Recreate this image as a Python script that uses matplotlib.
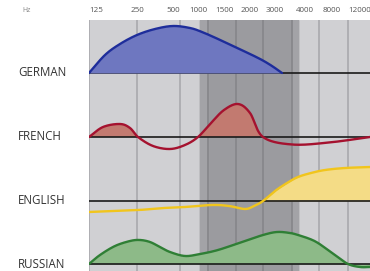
import matplotlib
matplotlib.use("Agg")
import matplotlib.pyplot as plt
import numpy as np

plt.rcParams['font.family'] = ['Open Sans', 'DejaVu Sans']

# ---------------- data ----------------
freq_labels = ["125", "250", "500", "1000", "1500", "2000", "3000", "4000", "8000", "12000"]
languages = ["GERMAN", "FRENCH", "ENGLISH", "RUSSIAN"]

# position along frequency axis (axis units) and amplitude above each baseline
german_x = [0, 16, 31, 48, 66, 84, 101, 113, 129, 146, 161, 173, 183, 193]
german_y = [0, 18, 29, 38, 44, 47, 45, 41, 34, 26, 19, 13, 7, 0]

french_x = [0, 14, 31, 41, 49, 64, 81, 96, 109, 122, 135, 149, 161, 174, 203, 240, 281]
french_y = [0, 10, 13, 9, 0, -9, -12, -8, 0, 14, 27, 33, 24, 0, -7.5, -5.5, 0]

english_x = [0, 25, 50, 75, 96, 123, 140, 156, 165, 174, 186, 198, 209, 222, 236, 256, 281]
english_y = [-11, -10, -9, -7, -6, -4, -5, -8, -5, 0, 10, 18, 24, 28, 31, 33, 34]

russian_x = [0, 11, 26, 41, 51, 61, 71, 81, 96, 111, 129, 153, 174, 188, 201, 209, 221, 229, 239, 246, 259, 271, 281]
russian_y = [0, 9, 18, 23, 24, 22, 17, 12, 8, 10, 14, 22, 29, 32, 31, 29, 25, 21, 14, 9, 0, -3, -3]


def smooth(xs, ys, n=24):
    """Catmull-Rom rendering of a line through the given points."""
    x = np.asarray(xs, float)
    y = np.asarray(ys, float)
    px_ = np.concatenate([[2 * x[0] - x[1]], x, [2 * x[-1] - x[-2]]])
    py_ = np.concatenate([[2 * y[0] - y[1]], y, [2 * y[-1] - y[-2]]])
    ox, oy = [], []
    t = np.linspace(0, 1, n, endpoint=False)
    for i in range(1, len(px_) - 2):
        for arr, out in ((px_, ox), (py_, oy)):
            p0, p1, p2, p3 = arr[i - 1], arr[i], arr[i + 1], arr[i + 2]
            out.extend(0.5 * ((2 * p1) + (-p0 + p2) * t +
                              (2 * p0 - 5 * p1 + 4 * p2 - p3) * t ** 2 +
                              (-p0 + 3 * p1 - 3 * p2 + p3) * t ** 3))
    ox.append(x[-1]); oy.append(y[-1])
    return np.array(ox), np.array(oy)

# ---------------- layout ----------------
W, H = 370, 271
fig = plt.figure(figsize=(W / 100, H / 100), dpi=100)
fig.patch.set_facecolor('white')

plot_left, plot_top = 89, 20
ax = fig.add_axes([plot_left / W, 0, (W - plot_left) / W, (H - plot_top) / H])
ax.set_xlim(0, W - plot_left)
ax.set_ylim(0, H - plot_top)
ax.axis('off')

bg = '#d0d0d3'
band = '#9b9b9f'
grid = '#a9a9ad'
grid_dark = '#86868a'

ax.axvspan(0, W - plot_left, color=bg, zorder=0)
ax.axvspan(111, 209, color=band, zorder=0.5)
ax.axvspan(111, 119, color='#a3a3a7', zorder=0.6)
ax.axvspan(203, 209, color='#a3a3a7', zorder=0.6)
for gx in [0, 48, 91, 230, 259]:
    ax.axvline(gx, color=grid, lw=1.2, zorder=1)
for gx in [119, 147, 174, 203]:
    ax.axvline(gx, color=grid_dark, lw=1.2, zorder=1)

baselines = [198, 134, 70, 7]

def draw(xs, ys, base, line_c, fill_c, pos_only=True, base_under=False):
    sx, sy = smooth(xs, ys)
    sy = sy + base
    ax.axhline(base, color='#1a1a1a', lw=1.2, zorder=2 if base_under else 4)
    if pos_only:
        ax.fill_between(sx, base, sy, where=sy >= base, interpolate=True,
                        color=fill_c, zorder=3, lw=0)
    else:
        ax.fill_between(sx, base, sy, color=fill_c, zorder=3, lw=0)
    ax.plot(sx, sy, color=line_c, lw=1.7, zorder=5, solid_capstyle='round')

draw(german_x, german_y, baselines[0], '#1e2d9b', '#6e77c0', base_under=True)
draw(french_x, french_y, baselines[1], '#a5122f', '#c27a70')
draw(english_x, english_y, baselines[2], '#f1c51c', '#f4dc86')
draw(russian_x, russian_y, baselines[3], '#2f7f35', '#8dba88', pos_only=False)

# ---------------- text ----------------
def px(x, y):
    return x / W, 1 - y / H

label_centers = [96, 137, 173, 198, 224, 250, 275, 305, 332, 360]
for lab, cx in zip(freq_labels, label_centers):
    fig.text(*px(cx, 11), lab, ha='center', va='center', fontsize=5.8, color='#555555')
fig.text(*px(22, 10), "Hz", ha='left', va='center', fontsize=5, color='#888888')

label_y = [73, 137, 201, 264]
for name, ly in zip(languages, label_y):
    fig.text(*px(18, ly), name, ha='left', va='center', fontsize=8.3, color='#333333')

fig.savefig('out.png', dpi=100, facecolor='white')
